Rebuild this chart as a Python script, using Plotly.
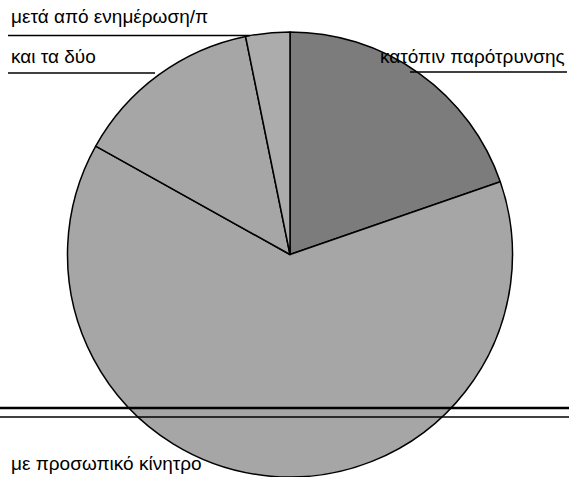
import plotly.graph_objects as go

labels = ["κατόπιν παρότρυνσης", "με προσωπικό κίνητρο", "και τα δύο", "μετά από ενημέρωση/π"]
values = [19.7, 63.4, 13.7, 3.2]
colors = ["#7c7c7c", "#a6a6a6", "#a6a6a6", "#acacac"]

W, H = 569, 477

fig = go.Figure(go.Pie(
    labels=labels, values=values, sort=False, direction="clockwise", rotation=0,
    textinfo="none", hoverinfo="label+percent",
    marker=dict(colors=colors, line=dict(color="#000000", width=1.5)),
    domain=dict(x=[67.5 / W, 512.5 / W], y=[0, 1 - 32 / H]),
    showlegend=False,
))

font = dict(family="Liberation Sans, Arial, sans-serif", size=19, color="#000000")
ann = [
    (labels[3], 9, 17, "left"),
    (labels[2], 9, 56, "left"),
    (labels[0], 567, 56, "right"),
    (labels[1], 9, 463, "left"),
]
annotations = []
for t, x, y, anc in ann:
    annotations.append(dict(text=t, x=x / W, y=1 - y / H, xref="paper", yref="paper",
                            xanchor=anc, yanchor="middle", showarrow=False, font=font))

def hline(x0, x1, y, w):
    return dict(type="line", xref="paper", yref="paper", x0=x0 / W, x1=x1 / W,
                y0=1 - y / H, y1=1 - y / H, line=dict(color="#000000", width=w))

shapes = [
    hline(8, 250, 35.5, 1.5),
    hline(8, 155, 73, 1.5),
    hline(410, 567, 72, 1.5),
    hline(0, 569, 408, 2.5),
    hline(0, 569, 417, 1.5),
]

fig.update_layout(width=W, height=H, margin=dict(l=0, r=0, t=0, b=0),
                  paper_bgcolor="#ffffff", plot_bgcolor="#ffffff",
                  annotations=annotations, shapes=shapes)
fig.write_html("out.html", config={"displayModeBar": False},
               post_script="document.body.style.margin='0';document.body.style.overflow='hidden';")
